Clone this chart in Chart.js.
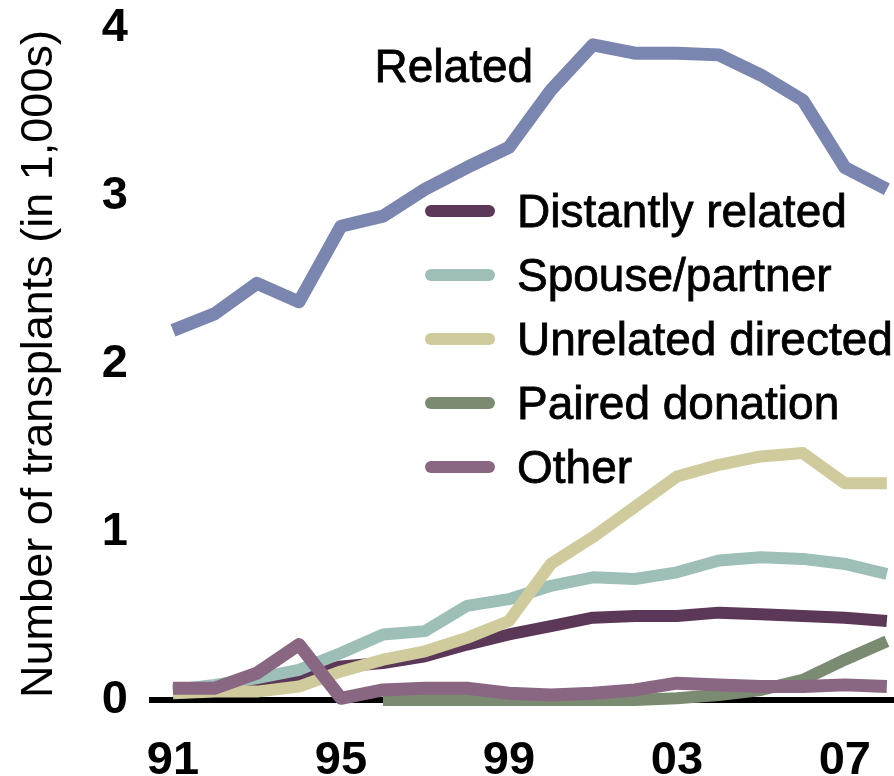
<!DOCTYPE html>
<html>
<head>
<meta charset="utf-8">
<script src="https://cdn.jsdelivr.net/npm/chart.js@4.4.1/dist/chart.umd.min.js"></script>
<style>
  html, body { margin: 0; padding: 0; background: #fff; }
  #wrap { width: 894px; height: 776px; }
</style>
</head>
<body>
<div id="wrap"><canvas id="transplantChart" width="894" height="776"></canvas></div>
<script>
// Living donor kidney transplants by donor relation, thousands per year
const years = [1991, 1992, 1993, 1994, 1995, 1996, 1997, 1998, 1999, 2000, 2001, 2002, 2003, 2004, 2005, 2006, 2007, 2008];
const xTickYears = [1991, 1995, 1999, 2003, 2007];
const yTickValues = [0, 1, 2, 3, 4];

const related    = [2.20, 2.30, 2.48, 2.37, 2.82, 2.88, 3.04, 3.17, 3.29, 3.63, 3.90, 3.85, 3.85, 3.84, 3.72, 3.57, 3.17, 3.04];
const distantly  = [0.05, 0.06, 0.10, 0.14, 0.20, 0.22, 0.26, 0.33, 0.39, 0.44, 0.49, 0.50, 0.50, 0.52, 0.51, 0.50, 0.49, 0.47];
const spouse     = [0.06, 0.09, 0.13, 0.18, 0.28, 0.39, 0.41, 0.56, 0.60, 0.68, 0.73, 0.72, 0.76, 0.83, 0.85, 0.84, 0.81, 0.75];
const unrelated  = [0.04, 0.05, 0.05, 0.08, 0.17, 0.24, 0.29, 0.37, 0.47, 0.81, 0.97, 1.15, 1.33, 1.40, 1.45, 1.47, 1.29, 1.29];
const paired     = [null, null, null, null, null, 0, 0, 0, 0, 0, 0, 0, 0.01, 0.03, 0.06, 0.12, 0.24, 0.35];
const other      = [0.07, 0.07, 0.16, 0.33, 0.01, 0.06, 0.07, 0.07, 0.04, 0.03, 0.04, 0.06, 0.10, 0.09, 0.08, 0.08, 0.09, 0.08];

const FONT = '"Liberation Sans", Arial, sans-serif';

function toPoints(values) {
    return years.map((yr, i) => ({ x: yr, y: values[i] }));
}

// legend drawn inside the plot, Related gets a direct label instead
const insideLegend = {
    id: 'insideLegend',
    afterDatasetsDraw(chart) {
        const ctx = chart.ctx;
        const xs = chart.scales.x;
        const ys = chart.scales.y;
        ctx.save();
        ctx.font = '46px ' + FONT;
        ctx.fillStyle = '#000';
        ctx.strokeStyle = '#000';
        ctx.textAlign = 'left';
        ctx.textBaseline = 'alphabetic';

        // direct label for Related
        const rx = xs.getPixelForValue(1995.8), ry = ys.getPixelForValue(3.68);
        ctx.lineWidth = 0.8;
        ctx.fillText('Related', rx, ry);
        ctx.strokeText('Related', rx, ry);

        const left = 425, top = 211, gap = 64;
        const entries = chart.data.datasets.filter(d => d.inLegend);
        entries.sort((a, b) => a.legendRow - b.legendRow);
        entries.forEach((d, i) => {
            const cy = top + i * gap;
            ctx.strokeStyle = d.borderColor;
            ctx.lineWidth = 12;
            ctx.lineCap = 'round';
            ctx.beginPath();
            ctx.moveTo(left + 6, cy);
            ctx.lineTo(left + 64, cy);
            ctx.stroke();
            ctx.strokeStyle = '#000';
            ctx.lineWidth = 0.8;
            ctx.fillText(d.label, left + 92, cy + 46 * 0.358);
            ctx.strokeText(d.label, left + 92, cy + 46 * 0.358);
        });
        ctx.restore();
    }
};

const ctx = document.getElementById('transplantChart').getContext('2d');

const lineDefaults = {
    borderWidth: 12,
    pointRadius: 0,
    tension: 0,
    fill: false,
    clip: false,
    borderJoinStyle: 'round',
    borderCapStyle: 'butt',
    spanGaps: false
};

new Chart(ctx, {
    type: 'line',
    data: {
        datasets: [
            { ...lineDefaults, label: 'Related', data: toPoints(related), borderColor: '#7b86b0', borderWidth: 13, order: 4, inLegend: false },
            { ...lineDefaults, label: 'Distantly related', data: toPoints(distantly), borderColor: '#5c3858', order: 3, inLegend: true, legendRow: 0 },
            { ...lineDefaults, label: 'Spouse/partner', data: toPoints(spouse), borderColor: '#9dbfb8', order: 2, inLegend: true, legendRow: 1 },
            { ...lineDefaults, label: 'Unrelated directed', data: toPoints(unrelated), borderColor: '#cfcb9c', order: 1, inLegend: true, legendRow: 2 },
            { ...lineDefaults, label: 'Paired donation', data: toPoints(paired), borderColor: '#7b8b72', order: 5, inLegend: true, legendRow: 3 },
            { ...lineDefaults, label: 'Other', data: toPoints(other), borderColor: '#896783', borderWidth: 13, order: 0, inLegend: true, legendRow: 4 }
        ]
    },
    options: {
        responsive: false,
        devicePixelRatio: 1,
        animation: false,
        layout: { padding: { top: 28, right: 0, bottom: 0, left: 0 } },
        plugins: {
            legend: { display: false },
            tooltip: { enabled: false }
        },
        scales: {
            x: {
                type: 'linear',
                min: 1990.5,
                max: 2008.17,
                grid: { display: false, drawTicks: false },
                border: { display: true, color: '#000', width: 6 },
                afterBuildTicks: (axis) => { axis.ticks = xTickYears.map(v => ({ value: v })); },
                afterFit: (axis) => {
                    axis.height = 76;
                    axis.paddingLeft = 0;
                    axis.paddingRight = 0;
                },
                ticks: {
                    color: '#000',
                    padding: 33,
                    maxRotation: 0,
                    font: { family: FONT, size: 47, weight: 'bold' },
                    callback: (v) => String(v).slice(2)
                }
            },
            y: {
                min: 0,
                max: 4,
                grid: { display: false, drawTicks: false },
                border: { display: false },
                afterBuildTicks: (axis) => { axis.ticks = yTickValues.map(v => ({ value: v })); },
                afterFit: (axis) => {
                    axis.width = 152;
                    axis.paddingTop = 0;
                    axis.paddingBottom = 0;
                },
                ticks: {
                    color: '#000',
                    padding: 24,
                    font: { family: FONT, size: 47, weight: 'bold' }
                },
                title: {
                    display: true,
                    text: 'Number of transplants (in 1,000s)',
                    color: '#000',
                    padding: { top: 13, bottom: 0 },
                    font: { family: FONT, size: 45 }
                }
            }
        }
    },
    plugins: [insideLegend]
});
</script>
</body>
</html>
